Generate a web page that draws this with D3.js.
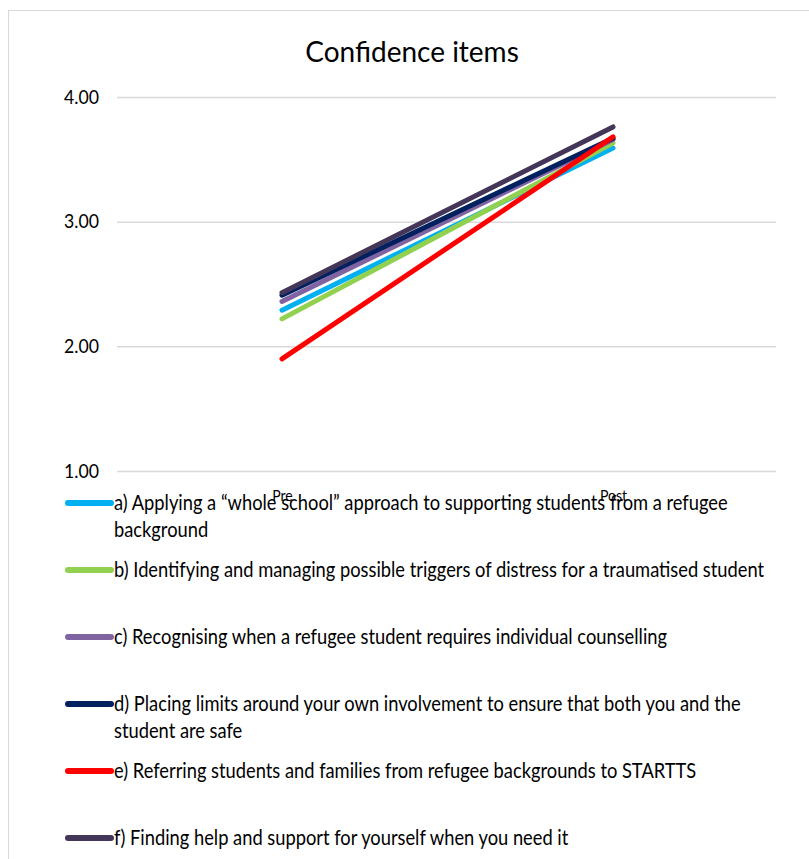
<!DOCTYPE html>
<html>
<head>
<meta charset="utf-8">
<script src="https://cdn.jsdelivr.net/npm/d3@7"></script>
<style>
  html, body { margin: 0; padding: 0; background: #ffffff; }
  svg { display: block; font-family: Lato, "Open Sans", sans-serif; }
</style>
</head>
<body>
<svg id="chart" width="809" height="859"></svg>
<script>
// Survey confidence ratings, before and after training
const categories = ["Pre", "Post"];
const seriesLabels = [
  "a) Applying a \u201cwhole school\u201d approach to supporting students from a refugee background",
  "b) Identifying and managing possible triggers of distress for a traumatised student",
  "c) Recognising when a refugee student requires individual counselling",
  "d) Placing limits around your own involvement to ensure that both you and the student are safe",
  "e) Referring students and families from refugee backgrounds to STARTTS",
  "f) Finding help and support for yourself when you need it"
];
const preValues  = [2.29, 2.22, 2.36, 2.41, 1.90, 2.43];
const postValues = [3.59, 3.63, 3.66, 3.67, 3.68, 3.76];
const seriesColors = ["#00b0f0", "#92d050", "#8064a2", "#002060", "#ff0000", "#433659"];
const yTicks = [1, 2, 3, 4];
const title = "Confidence items";

// text is set slightly condensed horizontally
const squeeze = 0.88;

const svg = d3.select("#chart");

// outer chart frame
svg.append("rect")
  .attr("x", 8.5).attr("y", 10.5)
  .attr("width", 830).attr("height", 860)
  .attr("fill", "none").attr("stroke", "#d9d9d9").attr("stroke-width", 1);

const plotLeft = 117, plotRight = 776;
const x = d3.scalePoint().domain(categories).range([282, 613]);
const y = d3.scaleLinear().domain([1, 4]).range([471, 97]);

// title, condensed to a fixed width
const titleText = svg.append("text")
  .attr("text-anchor", "middle")
  .attr("font-size", 28)
  .attr("fill", "#000")
  .text(title);
const titleScale = Math.min(1, 220 / titleText.node().getComputedTextLength());
titleText.attr("transform", `translate(412,62) scale(${titleScale},1)`);

// horizontal gridlines and value labels
const yAxis = d3.axisLeft(y)
  .tickValues(yTicks)
  .tickSize(-(plotRight - plotLeft))
  .tickPadding(18)
  .tickFormat(d3.format(".2f"));
const gy = svg.append("g").attr("transform", `translate(${plotLeft},0)`).call(yAxis);
gy.select(".domain").remove();
gy.selectAll(".tick line").attr("stroke", "#d9d9d9").attr("stroke-width", 1.5);
const tickText = gy.selectAll(".tick text")
  .attr("font-size", 19).attr("fill", "#000")
  .attr("font-family", "Lato, sans-serif");
// keep value labels about 35px wide, right edge 18px left of the grid
const tickScale = Math.min(1, 35 / d3.max(tickText.nodes(), n => n.getComputedTextLength()));
tickText
  .attr("x", -18 / tickScale)
  .attr("transform", `scale(${tickScale},1)`);

// series lines
const series = seriesLabels.map((label, i) => ({
  label,
  color: seriesColors[i],
  values: [
    { cat: categories[0], v: preValues[i] },
    { cat: categories[1], v: postValues[i] }
  ]
}));

const line = d3.line().x(d => x(d.cat)).y(d => y(d.v));

svg.append("g").selectAll("path")
  .data(series)
  .join("path")
  .attr("d", d => line(d.values))
  .attr("fill", "none")
  .attr("stroke", d => d.color)
  .attr("stroke-width", 5)
  .attr("stroke-linecap", "round");

// category labels
const xAxis = d3.axisBottom(x).tickSize(0).tickPadding(5);
const gx = svg.append("g").attr("transform", "translate(0,485)").call(xAxis);
gx.select(".domain").remove();
gx.selectAll(".tick text")
  .attr("font-size", 16).attr("fill", "#000")
  .attr("font-family", "Lato, sans-serif")
  .attr("transform", `scale(${squeeze},1)`);

// legend
const legendFont = 20.8;
const wrapWidth = 665;
const lineGap = 26.5;
const entryStep = 67;
const legend = svg.append("g");

// measure helper for wrapping legend entries
const measure = svg.append("text").attr("font-size", legendFont).attr("visibility", "hidden");
function wrap(str) {
  const words = str.split(" ");
  const lines = [];
  let cur = "";
  words.forEach(w => {
    const test = cur ? cur + " " + w : w;
    measure.text(test);
    if (measure.node().getComputedTextLength() * squeeze > wrapWidth && cur) {
      lines.push(cur);
      cur = w;
    } else {
      cur = test;
    }
  });
  if (cur) lines.push(cur);
  return lines;
}

series.forEach((s, i) => {
  const ly = 503 + i * entryStep;
  const lines = wrap(s.label);
  const g = legend.append("g");
  g.append("line")
    .attr("x1", 68).attr("x2", 111)
    .attr("y1", ly).attr("y2", ly)
    .attr("stroke", s.color).attr("stroke-width", 6)
    .attr("stroke-linecap", "round");
  const t = g.append("text")
    .attr("transform", `translate(114,${ly}) scale(${squeeze},1)`)
    .attr("font-size", legendFont)
    .attr("fill", "#000");
  lines.forEach((ln, k) => {
    t.append("tspan").attr("x", 0).attr("y", k * lineGap).attr("dy", "0.35em").text(ln);
  });
});
measure.remove();
</script>
</body>
</html>
